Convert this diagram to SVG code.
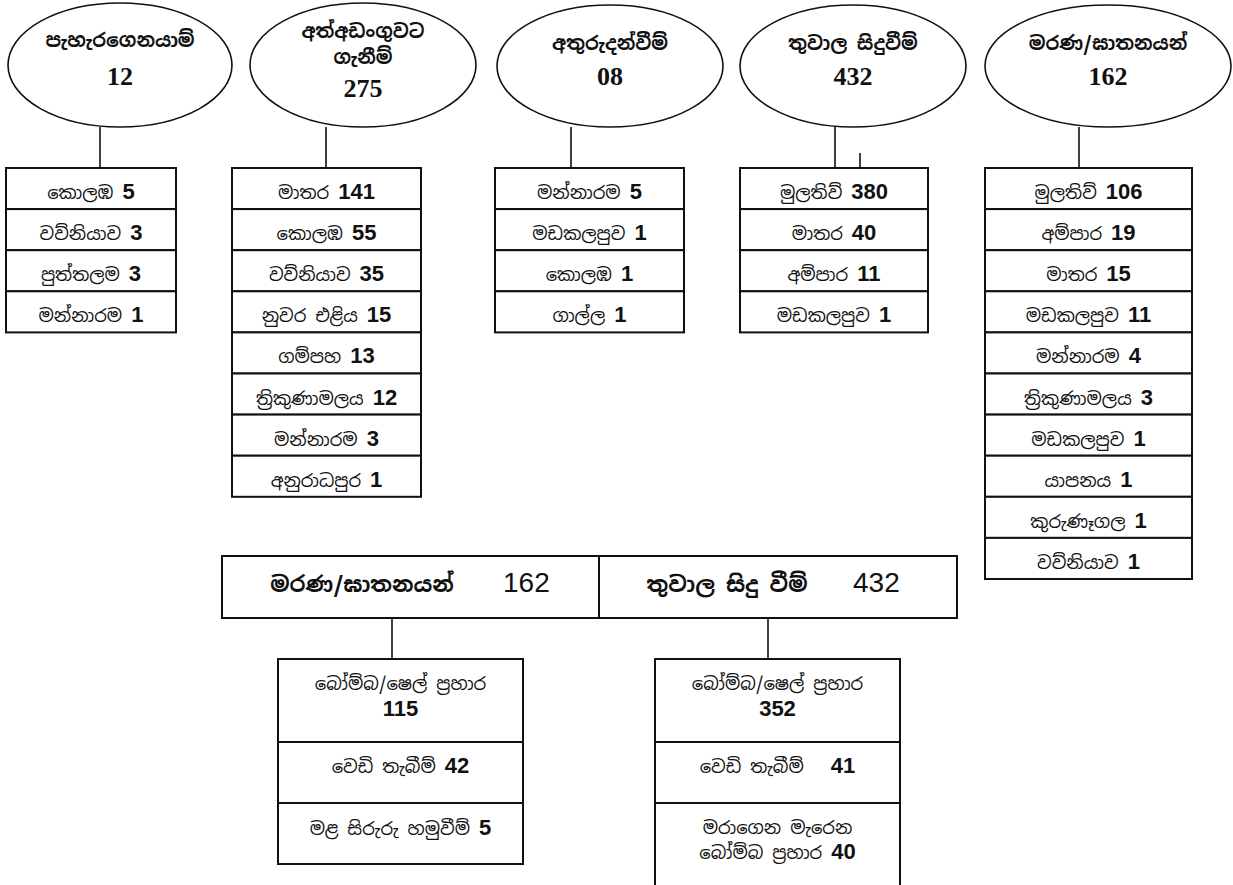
<svg xmlns="http://www.w3.org/2000/svg" width="1233" height="885" viewBox="0 0 1233 885">
<style>
.bg{fill:#fff}
.sh{fill:#fff;stroke:#111;stroke-width:1.6}
.cell{fill:#fff;stroke:#111;stroke-width:2}
.ln{stroke:#111;stroke-width:1.6;fill:none}
.si{font-family:"Noto Sans Sinhala","Iskoola Pota","Noto Sans","DejaVu Sans",sans-serif;font-size:18px;fill:#111;text-anchor:middle}
.sib{font-family:"Noto Sans Sinhala","Iskoola Pota","Noto Sans","DejaVu Sans",sans-serif;font-size:19px;font-weight:bold;fill:#111;text-anchor:middle}
.hd{font-family:"Noto Sans Sinhala","Iskoola Pota","Noto Sans","DejaVu Sans",sans-serif;font-size:22px;font-weight:bold;fill:#111;text-anchor:middle}
.num{font-family:"Liberation Sans",Arial,sans-serif;font-weight:bold;font-size:22px}
.hn{font-family:"Liberation Sans",Arial,sans-serif;font-size:28px;fill:#111}
.en{font-family:"Liberation Serif","Times New Roman",serif;font-weight:bold;font-size:26px;fill:#111;text-anchor:middle}
</style>
<rect class="bg" x="0" y="0" width="1233" height="885"/>

<g id="connectors">
<line class="ln" x1="100" y1="127" x2="100" y2="168"/>
<line class="ln" x1="326" y1="127" x2="326" y2="168"/>
<line class="ln" x1="571" y1="127" x2="571" y2="168"/>
<line class="ln" x1="835" y1="126" x2="835" y2="168"/>
<line class="ln" x1="860" y1="153" x2="860" y2="183"/>
<line class="ln" x1="1079" y1="127" x2="1079" y2="168"/>
<line class="ln" x1="392" y1="618" x2="392" y2="659"/>
<line class="ln" x1="768" y1="618" x2="768" y2="659"/>
</g>

<g id="e1">
<ellipse class="sh" cx="120" cy="65" rx="112" ry="62"/>
<text class="sib" x="120" y="47">පැහැරගෙනයාම්</text>
<text class="en" x="120" y="85">12</text>
</g>
<g id="e2">
<ellipse class="sh" cx="363" cy="65" rx="113" ry="62"/>
<text class="sib" x="363" y="38">අත්අඩංගුවට</text>
<text class="sib" x="363" y="64">ගැනීම්</text>
<text class="en" x="363" y="97">275</text>
</g>
<g id="e3">
<ellipse class="sh" cx="610" cy="66" rx="113" ry="61"/>
<text class="sib" x="610" y="50">අතුරුදන්වීම්</text>
<text class="en" x="610" y="85">08</text>
</g>
<g id="e4">
<ellipse class="sh" cx="853" cy="66" rx="113" ry="61"/>
<text class="sib" x="853" y="50">තුවාල සිදුවීම්</text>
<text class="en" x="853" y="85">432</text>
</g>
<g id="e5">
<ellipse class="sh" cx="1108" cy="66" rx="123" ry="61"/>
<text class="sib" x="1108" y="50">මරණ/ඝාතනයන්</text>
<text class="en" x="1108" y="85">162</text>
</g>

<g id="t1">
<rect class="cell" x="6" y="168" width="170" height="41.1"/>
<rect class="cell" x="6" y="209.1" width="170" height="41.1"/>
<rect class="cell" x="6" y="250.2" width="170" height="41.1"/>
<rect class="cell" x="6" y="291.3" width="170" height="41.1"/>
<text class="si" x="91" y="199">කොලඹ <tspan class="num">5</tspan></text>
<text class="si" x="91" y="240">වව්නියාව <tspan class="num">3</tspan></text>
<text class="si" x="91" y="281">පුත්තලම <tspan class="num">3</tspan></text>
<text class="si" x="91" y="322">මන්නාරම <tspan class="num">1</tspan></text>
</g>

<g id="t2">
<rect class="cell" x="232" y="168" width="189" height="41.1"/>
<rect class="cell" x="232" y="209.1" width="189" height="41.1"/>
<rect class="cell" x="232" y="250.2" width="189" height="41.1"/>
<rect class="cell" x="232" y="291.3" width="189" height="41.1"/>
<rect class="cell" x="232" y="332.4" width="189" height="41.1"/>
<rect class="cell" x="232" y="373.5" width="189" height="41.1"/>
<rect class="cell" x="232" y="414.6" width="189" height="41.1"/>
<rect class="cell" x="232" y="455.7" width="189" height="41.1"/>
<text class="si" x="326.5" y="199">මාතර <tspan class="num">141</tspan></text>
<text class="si" x="326.5" y="240">කොලඹ <tspan class="num">55</tspan></text>
<text class="si" x="326.5" y="281">වව්නියාව <tspan class="num">35</tspan></text>
<text class="si" x="326.5" y="322">නුවර එළිය <tspan class="num">15</tspan></text>
<text class="si" x="326.5" y="363">ගම්පහ <tspan class="num">13</tspan></text>
<text class="si" x="326.5" y="405">ත්‍රිකුණාමලය <tspan class="num">12</tspan></text>
<text class="si" x="326.5" y="446">මන්නාරම <tspan class="num">3</tspan></text>
<text class="si" x="326.5" y="487">අනුරාධපුර <tspan class="num">1</tspan></text>
</g>

<g id="t3">
<rect class="cell" x="495" y="168" width="189" height="41.1"/>
<rect class="cell" x="495" y="209.1" width="189" height="41.1"/>
<rect class="cell" x="495" y="250.2" width="189" height="41.1"/>
<rect class="cell" x="495" y="291.3" width="189" height="41.1"/>
<text class="si" x="589.5" y="199">මන්නාරම <tspan class="num">5</tspan></text>
<text class="si" x="589.5" y="240">මඩකලපුව <tspan class="num">1</tspan></text>
<text class="si" x="589.5" y="281">කොලඹ <tspan class="num">1</tspan></text>
<text class="si" x="589.5" y="322">ගාල්ල <tspan class="num">1</tspan></text>
</g>

<g id="t4">
<rect class="cell" x="740" y="168" width="188" height="41.1"/>
<rect class="cell" x="740" y="209.1" width="188" height="41.1"/>
<rect class="cell" x="740" y="250.2" width="188" height="41.1"/>
<rect class="cell" x="740" y="291.3" width="188" height="41.1"/>
<text class="si" x="834" y="199">මුලතිව් <tspan class="num">380</tspan></text>
<text class="si" x="834" y="240">මාතර <tspan class="num">40</tspan></text>
<text class="si" x="834" y="281">අම්පාර <tspan class="num">11</tspan></text>
<text class="si" x="834" y="322">මඩකලපුව <tspan class="num">1</tspan></text>
</g>

<g id="t5">
<rect class="cell" x="985" y="168" width="207" height="41.1"/>
<rect class="cell" x="985" y="209.1" width="207" height="41.1"/>
<rect class="cell" x="985" y="250.2" width="207" height="41.1"/>
<rect class="cell" x="985" y="291.3" width="207" height="41.1"/>
<rect class="cell" x="985" y="332.4" width="207" height="41.1"/>
<rect class="cell" x="985" y="373.5" width="207" height="41.1"/>
<rect class="cell" x="985" y="414.6" width="207" height="41.1"/>
<rect class="cell" x="985" y="455.7" width="207" height="41.1"/>
<rect class="cell" x="985" y="496.8" width="207" height="41.1"/>
<rect class="cell" x="985" y="537.9" width="207" height="41.1"/>
<text class="si" x="1088.5" y="199">මුලතිව් <tspan class="num">106</tspan></text>
<text class="si" x="1088.5" y="240">අම්පාර <tspan class="num">19</tspan></text>
<text class="si" x="1088.5" y="281">මාතර <tspan class="num">15</tspan></text>
<text class="si" x="1088.5" y="322">මඩකලපුව <tspan class="num">11</tspan></text>
<text class="si" x="1088.5" y="363">මන්නාරම <tspan class="num">4</tspan></text>
<text class="si" x="1088.5" y="405">ත්‍රිකුණාමලය <tspan class="num">3</tspan></text>
<text class="si" x="1088.5" y="446">මඩකලපුව <tspan class="num">1</tspan></text>
<text class="si" x="1088.5" y="487">යාපනය <tspan class="num">1</tspan></text>
<text class="si" x="1088.5" y="528">කුරුණෑගල <tspan class="num">1</tspan></text>
<text class="si" x="1088.5" y="569">වව්නියාව <tspan class="num">1</tspan></text>
</g>

<g id="h1">
<rect class="cell" x="222" y="556" width="377" height="62"/>
<text class="hd" x="362" y="592">මරණ/ඝාතනයන්</text>
<text class="hn" x="503" y="592">162</text>
</g>
<g id="h2">
<rect class="cell" x="599" y="556" width="358" height="62"/>
<text class="hd" x="727" y="592">තුවාල සිදු වීම්</text>
<text class="hn" x="853" y="592">432</text>
</g>

<g id="b1">
<rect class="cell" x="278" y="659" width="245" height="83"/>
<rect class="cell" x="278" y="742" width="245" height="61"/>
<rect class="cell" x="278" y="803" width="245" height="61"/>
<text class="si" x="400.5" y="690">බෝම්බ/ෂෙල් ප්‍රහාර</text>
<text class="si" x="400.5" y="716"><tspan class="num">115</tspan></text>
<text class="si" x="400.5" y="773">වෙඩි තැබීම් <tspan class="num">42</tspan></text>
<text class="si" x="400.5" y="835">මළ සිරුරු හමුවීම් <tspan class="num">5</tspan></text>
</g>
<g id="b2">
<rect class="cell" x="655" y="659" width="245" height="83"/>
<rect class="cell" x="655" y="742" width="245" height="61"/>
<rect class="cell" x="655" y="803" width="245" height="84"/>
<text class="si" x="777.5" y="690">බෝම්බ/ෂෙල් ප්‍රහාර</text>
<text class="si" x="777.5" y="716"><tspan class="num">352</tspan></text>
<text class="si" x="777.5" y="773" xml:space="preserve">වෙඩි තැබීම්   <tspan class="num">41</tspan></text>
<text class="si" x="777.5" y="834">මරාගෙන මැරෙන</text>
<text class="si" x="777.5" y="859">බෝම්බ ප්‍රහාර <tspan class="num">40</tspan></text>
</g>
</svg>
